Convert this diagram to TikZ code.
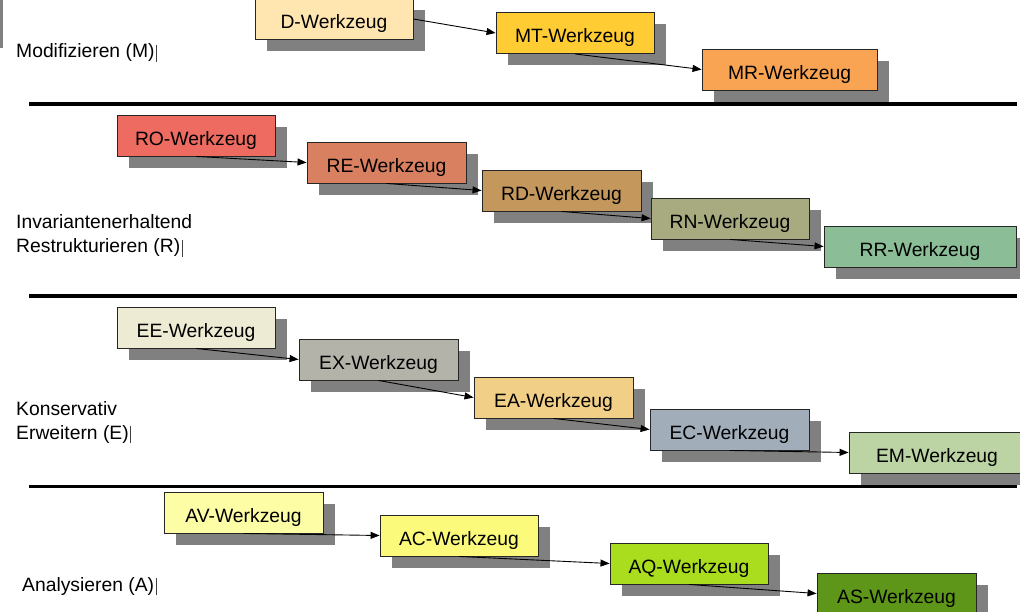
\documentclass[tikz,border=0pt]{standalone}
\usepackage{fontspec}
\setmainfont{Liberation Sans}
\usetikzlibrary{shadows,arrows.meta}
\definecolor{shadowgray}{HTML}{808080}
\definecolor{cD}{HTML}{FFE5B0}
\definecolor{cMT}{HTML}{FFCC33}
\definecolor{cMR}{HTML}{F9A452}
\definecolor{cRO}{HTML}{EE6B61}
\definecolor{cRE}{HTML}{D98060}
\definecolor{cRD}{HTML}{C4985C}
\definecolor{cRN}{HTML}{A8AB7F}
\definecolor{cRR}{HTML}{8BBE97}
\definecolor{cEE}{HTML}{EDEBD3}
\definecolor{cEX}{HTML}{B3B3A9}
\definecolor{cEA}{HTML}{F2CF87}
\definecolor{cEC}{HTML}{A2ADBA}
\definecolor{cEM}{HTML}{BCD4A4}
\definecolor{cAV}{HTML}{FDFDA6}
\definecolor{cAC}{HTML}{FBFA7A}
\definecolor{cAQ}{HTML}{AADD1E}
\definecolor{cAS}{HTML}{5E9619}
\newcommand{\cursorbar}{\kern1.5pt\textcolor{black!75}{\rule[-4pt]{0.8pt}{17pt}}}
\begin{document}
\begin{tikzpicture}[x=1pt,y=-1pt,
  tool/.style={draw=black!85, line width=0.9pt, inner sep=0pt,
    minimum height=41pt, minimum width=158pt,
    text height=19.5pt, text depth=0pt,
    font=\fontsize{19.3pt}{23pt}\selectfont,
    drop shadow={shadow xshift=12pt, shadow yshift=-12pt, fill=shadowgray, opacity=1}},
  conn/.style={line width=0.9pt, -{Triangle[length=9pt,width=7pt]}},
  sepline/.style={line width=3.5pt},
  lab/.style={anchor=base west, inner sep=0pt, font=\fontsize{19.3pt}{23pt}\selectfont}
]
\useasboundingbox (0,0) rectangle (1020,612);
\clip (0,0) rectangle (1020,612);
\fill[white] (0,0) rectangle (1020,612);

% top-left grey bar
\fill[shadowgray] (0,0) rectangle (2.5,48);

% separators
\coordinate (s1a) at (29,104); \coordinate (s1b) at (1017,104);
\coordinate (s2a) at (29,296); \coordinate (s2b) at (1017,296);
\coordinate (s3a) at (29,486.5); \coordinate (s3b) at (1017,486.5);
\draw[sepline] (s1a) -- (s1b);
\draw[sepline] (s2a) -- (s2b);
\draw[sepline] (s3a) -- (s3b);

% labels
\node[lab] (labM) at (16,58) {Modifizieren (M)\cursorbar};
\node[lab] (labR1) at (16,229) {Invariantenerhaltend};
\node[lab] (labR2) at (16,253) {Restrukturieren (R)\cursorbar};
\node[lab] (labE1) at (16,415) {Konservativ};
\node[lab] (labE2) at (16,439) {Erweitern (E)\cursorbar};
\node[lab] (labA) at (22,591) {Analysieren (A)\cursorbar};

% Modifizieren
\node[tool, fill=cD] (D) at (334,19) {D-Werkzeug};
\node[tool, fill=cMT] (MT) at (575,33) {MT-Werkzeug};
\node[tool, fill=cMR, minimum width=175pt] (MR) at (789.5,69.5) {MR-Werkzeug};

% Restrukturieren
\node[tool, fill=cRO] (RO) at (196,135.5) {RO-Werkzeug};
\node[tool, fill=cRE, minimum width=159pt] (RE) at (386.5,162.5) {RE-Werkzeug};
\node[tool, fill=cRD, minimum width=159pt] (RD) at (561.5,190.5) {RD-Werkzeug};
\node[tool, fill=cRN] (RN) at (730,218.5) {RN-Werkzeug};
\node[tool, fill=cRR, minimum width=192pt] (RR) at (920,246.5) {RR-Werkzeug};

% Erweitern
\node[tool, fill=cEE] (EE) at (196,327.5) {EE-Werkzeug};
\node[tool, fill=cEX, minimum width=159pt] (EX) at (378.5,359.5) {EX-Werkzeug};
\node[tool, fill=cEA, minimum width=159pt] (EA) at (553.5,397.5) {EA-Werkzeug};
\node[tool, fill=cEC, minimum width=159pt] (EC) at (729.5,429.5) {EC-Werkzeug};
\node[tool, fill=cEM, minimum width=176pt] (EM) at (937,452.5) {EM-Werkzeug};

% Analysieren
\node[tool, fill=cAV, minimum width=159pt] (AV) at (243.5,512.5) {AV-Werkzeug};
\node[tool, fill=cAC] (AC) at (459,535.5) {AC-Werkzeug};
\node[tool, fill=cAQ] (AQ) at (689,563.5) {AQ-Werkzeug};
\node[tool, fill=cAS, minimum width=159pt] (AS) at (896.5,593.5) {AS-Werkzeug};

% connectors
\draw[conn] (D.east) -- (MT.west);
\draw[conn] (MT.south) -- (MR.west);
\draw[conn] (RO.south) -- (RE.west);
\draw[conn] (RE.south) -- (RD.west);
\draw[conn] (RD.south) -- (RN.west);
\draw[conn] (RN.south) -- (RR.west);
\draw[conn] (EE.south) -- (EX.west);
\draw[conn] (EX.south) -- (EA.west);
\draw[conn] (EA.south) -- (EC.west);
\draw[conn] (EC.south) -- (EM.west);
\draw[conn] (AV.south) -- (AC.west);
\draw[conn] (AC.south) -- (AQ.west);
\draw[conn] (AQ.south) -- (AS.west);
\end{tikzpicture}
\end{document}
